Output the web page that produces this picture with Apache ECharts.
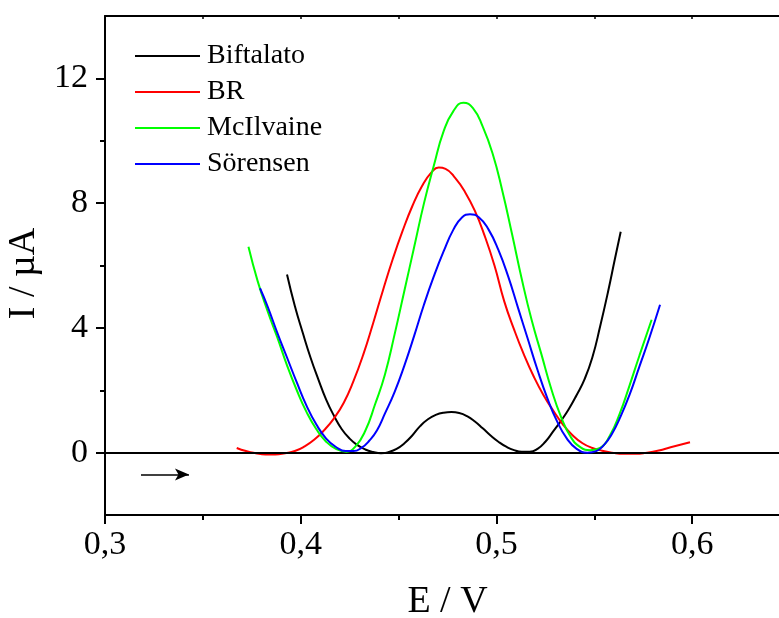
<!DOCTYPE html>
<html>
<head>
<meta charset="utf-8">
<title>Voltamogramas</title>
<script src="https://cdn.jsdelivr.net/npm/echarts@6/dist/echarts.min.js"></script>
<style>
  html, body { margin: 0; padding: 0; background: #fff; }
  #chart { width: 779px; height: 618px; }
</style>
</head>
<body>
<div id="chart"></div>
<script>
// Potential (V) and current (µA) for each buffer
const seriesNames = ['Biftalato', 'BR', 'McIlvaine', 'Sörensen'];
const seriesColors = ['#000000', '#ff0000', '#00ff00', '#0000ff'];

const biftalatoE = [0.393, 0.397, 0.401, 0.405, 0.409, 0.413, 0.417, 0.421, 0.425, 0.429, 0.433, 0.437, 0.441, 0.445, 0.449, 0.453, 0.457, 0.461, 0.465, 0.469, 0.473, 0.477, 0.481, 0.485, 0.489, 0.493, 0.497, 0.501, 0.505, 0.509, 0.513, 0.517, 0.521, 0.525, 0.529, 0.533, 0.537, 0.541, 0.545, 0.549, 0.553, 0.557, 0.5605, 0.5635];
const biftalatoI = [5.71, 4.70, 3.85, 3.05, 2.35, 1.70, 1.18, 0.75, 0.45, 0.24, 0.10, 0.02, -0.02, 0.02, 0.12, 0.30, 0.55, 0.85, 1.07, 1.21, 1.28, 1.30, 1.27, 1.17, 1.00, 0.78, 0.55, 0.35, 0.19, 0.08, 0.03, 0.03, 0.12, 0.35, 0.68, 1.02, 1.40, 1.85, 2.35, 3.05, 4.05, 5.15, 6.20, 7.08];

const brE = [0.3673, 0.372, 0.377, 0.382, 0.387, 0.392, 0.397, 0.402, 0.407, 0.412, 0.417, 0.422, 0.427, 0.432, 0.437, 0.442, 0.447, 0.452, 0.457, 0.462, 0.467, 0.4705, 0.474, 0.479, 0.484, 0.489, 0.494, 0.499, 0.504, 0.509, 0.514, 0.519, 0.524, 0.529, 0.534, 0.539, 0.544, 0.549, 0.554, 0.559, 0.565, 0.571, 0.577, 0.583, 0.589, 0.5989];
const brI = [0.15, 0.05, -0.02, -0.06, -0.06, -0.02, 0.05, 0.20, 0.42, 0.72, 1.10, 1.60, 2.30, 3.15, 4.15, 5.20, 6.20, 7.10, 7.90, 8.55, 9.00, 9.14, 9.10, 8.80, 8.35, 7.75, 6.95, 6.00, 4.85, 3.95, 3.15, 2.45, 1.85, 1.35, 0.90, 0.55, 0.30, 0.15, 0.06, 0.00, -0.04, -0.04, 0.00, 0.07, 0.17, 0.33];

const mcilvaineE = [0.3733, 0.378, 0.383, 0.388, 0.393, 0.398, 0.403, 0.408, 0.413, 0.418, 0.4234, 0.428, 0.433, 0.438, 0.443, 0.448, 0.453, 0.458, 0.463, 0.468, 0.473, 0.478, 0.4831, 0.488, 0.493, 0.498, 0.503, 0.508, 0.513, 0.518, 0.523, 0.528, 0.533, 0.538, 0.543, 0.548, 0.553, 0.558, 0.563, 0.568, 0.573, 0.5793];
const mcilvaineI = [6.60, 5.50, 4.55, 3.70, 2.80, 2.00, 1.30, 0.75, 0.35, 0.12, 0.03, 0.20, 0.70, 1.55, 2.50, 3.80, 5.20, 6.60, 8.00, 9.20, 10.30, 10.95, 11.22, 11.05, 10.45, 9.60, 8.40, 7.00, 5.55, 4.25, 3.15, 2.05, 1.15, 0.50, 0.17, 0.08, 0.15, 0.55, 1.25, 2.15, 3.10, 4.26];

const sorensenE = [0.3792, 0.383, 0.388, 0.393, 0.398, 0.403, 0.408, 0.413, 0.418, 0.423, 0.427, 0.431, 0.435, 0.439, 0.443, 0.448, 0.453, 0.458, 0.463, 0.468, 0.473, 0.478, 0.4825, 0.4865, 0.491, 0.496, 0.501, 0.506, 0.511, 0.516, 0.521, 0.526, 0.531, 0.536, 0.541, 0.5465, 0.551, 0.555, 0.559, 0.563, 0.568, 0.573, 0.578, 0.5836];
const sorensenI = [5.27, 4.70, 3.85, 3.05, 2.25, 1.50, 0.90, 0.45, 0.18, 0.05, 0.05, 0.15, 0.38, 0.72, 1.25, 1.95, 2.80, 3.75, 4.75, 5.65, 6.45, 7.15, 7.55, 7.64, 7.55, 7.15, 6.50, 5.65, 4.65, 3.65, 2.65, 1.75, 1.00, 0.45, 0.12, 0.00, 0.05, 0.25, 0.60, 1.10, 1.85, 2.75, 3.65, 4.74];

// Axis ticks
const xMajorTicks = [0.3, 0.4, 0.5, 0.6];
const xMinorTicks = [0.35, 0.45, 0.55];
const xTopTicks = [0.35, 0.4, 0.45, 0.5, 0.55, 0.6];
const yMajorTicks = [0, 4, 8, 12];
const yMinorTicks = [2, 6, 10];

// Scan direction arrow (E, I)
const arrowStart = [0.3184, -0.70];
const arrowEnd = [0.3429, -0.70];

const FONT = '"Liberation Serif", "Times New Roman", serif';

function pairs(xs, ys) {
  return xs.map((x, i) => [x, ys[i]]);
}
const allE = [biftalatoE, brE, mcilvaineE, sorensenE];
const allI = [biftalatoI, brI, mcilvaineI, sorensenI];

const chart = echarts.init(document.getElementById('chart'), null, { renderer: 'canvas' });

const fmt = v => v.toFixed(1).replace('.', ',');

const series = seriesNames.map((name, k) => ({
  name: name,
  type: 'line',
  data: pairs(allE[k], allI[k]),
  smooth: 0.5,
  showSymbol: false,
  symbol: 'none',
  lineStyle: { color: seriesColors[k], width: 2 },
  itemStyle: { color: seriesColors[k] },
  z: 3 + k,
  animation: false
}));

// zero-current baseline
series[0].markLine = {
  silent: true,
  symbol: ['none', 'none'],
  label: { show: false },
  lineStyle: { color: '#000', width: 2, type: 'solid' },
  data: [{ yAxis: 0 }],
  animation: false
};
// scan direction arrow
series[1].markLine = {
  silent: true,
  symbol: ['none', 'arrow'],
  symbolSize: [9, 14],
  label: { show: false },
  lineStyle: { color: '#000', width: 1.5, type: 'solid' },
  itemStyle: { color: '#000' },
  data: [[{ coord: arrowStart }, { coord: arrowEnd }]],
  animation: false
};

const option = {
  backgroundColor: '#fff',
  animation: false,
  grid: { left: 105, right: -11, top: 16, bottom: 103, containLabel: false, outerBoundsMode: 'none' },
  legend: {
    orient: 'vertical',
    left: 135,
    top: 41,
    padding: 0,
    itemWidth: 65,
    itemHeight: 2,
    itemGap: 6,
    icon: 'rect',
    textStyle: { fontFamily: FONT, fontSize: 28, color: '#000', lineHeight: 30, padding: [0, 0, 0, 2] },
    data: seriesNames.map((n, k) => ({ name: n, itemStyle: { color: seriesColors[k] } }))
  },
  xAxis: [
    {
      type: 'value',
      min: 0.3, max: 0.65,
      position: 'bottom',
      name: 'E / V',
      nameLocation: 'middle',
      nameGap: 68,
      nameTextStyle: { fontFamily: FONT, fontSize: 38, color: '#000' },
      axisLine: { show: true, onZero: false, lineStyle: { color: '#000', width: 2 } },
      axisTick: { show: true, inside: false, length: 9, lineStyle: { color: '#000', width: 2 }, customValues: xMajorTicks },
      axisLabel: { show: true, margin: 13, fontFamily: FONT, fontSize: 34, color: '#000', formatter: fmt, customValues: xMajorTicks },
      splitLine: { show: false }
    },
    {
      type: 'value',
      min: 0.3, max: 0.65,
      position: 'bottom',
      axisLine: { show: false, onZero: false },
      axisTick: { show: true, inside: false, length: 5, lineStyle: { color: '#000', width: 2 }, customValues: xMinorTicks },
      axisLabel: { show: false },
      splitLine: { show: false }
    },
    {
      type: 'value',
      min: 0.3, max: 0.65,
      position: 'top',
      axisLine: { show: true, onZero: false, lineStyle: { color: '#000', width: 2 } },
      axisTick: { show: true, inside: true, length: 3, lineStyle: { color: '#000', width: 1.5 }, customValues: xTopTicks },
      axisLabel: { show: false },
      splitLine: { show: false }
    }
  ],
  yAxis: [
    {
      type: 'value',
      min: -2, max: 14,
      position: 'left',
      name: 'I / µA',
      nameLocation: 'middle',
      nameGap: 54,
      nameTextStyle: { fontFamily: FONT, fontSize: 38, color: '#000', padding: [0, 16, 0, 0] },
      axisLine: { show: true, onZero: false, lineStyle: { color: '#000', width: 2 } },
      axisTick: { show: true, inside: false, length: 9, lineStyle: { color: '#000', width: 2 }, customValues: yMajorTicks },
      axisLabel: { show: true, margin: 17, fontFamily: FONT, fontSize: 34, color: '#000', customValues: yMajorTicks },
      splitLine: { show: false }
    },
    {
      type: 'value',
      min: -2, max: 14,
      position: 'left',
      axisLine: { show: false, onZero: false },
      axisTick: { show: true, inside: false, length: 5, lineStyle: { color: '#000', width: 2 }, customValues: yMinorTicks },
      axisLabel: { show: false },
      splitLine: { show: false }
    }
  ],
  series: series
};

chart.setOption(option);
</script>
</body>
</html>
